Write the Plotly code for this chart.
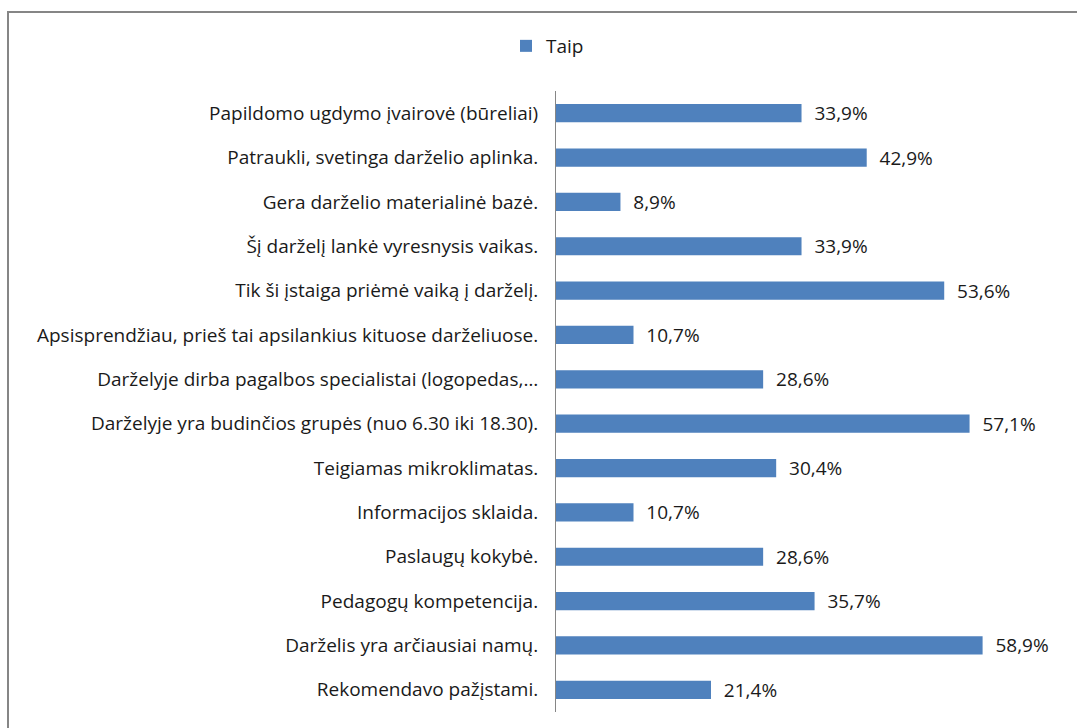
import plotly.graph_objects as go

categories = [
    "Papildomo ugdymo įvairovė (būreliai)",
    "Patraukli, svetinga darželio aplinka.",
    "Gera darželio materialinė bazė.",
    "Šį darželį lankė vyresnysis vaikas.",
    "Tik ši įstaiga priėmė vaiką į darželį.",
    "Apsisprendžiau, prieš tai apsilankius kituose darželiuose.",
    "Darželyje dirba pagalbos specialistai (logopedas,…",
    "Darželyje yra budinčios grupės (nuo 6.30 iki 18.30).",
    "Teigiamas mikroklimatas.",
    "Informacijos sklaida.",
    "Paslaugų kokybė.",
    "Pedagogų kompetencija.",
    "Darželis yra arčiausiai namų.",
    "Rekomendavo pažįstami.",
]
taip = [33.9, 42.9, 8.9, 33.9, 53.6, 10.7, 28.6, 57.1, 30.4, 10.7, 28.6, 35.7, 58.9, 21.4]

# value labels with decimal comma, pushed a bit away from the bar end
labels = ["\u00a0\u00a0" + f"{v:.1f}%".replace(".", ",") for v in taip]

FONT = "Open Sans"
TEXT_COLOR = "#1a1a1a"
FS = 19

fig = go.Figure()
fig.add_trace(
    go.Bar(
        x=taip,
        y=categories,
        orientation="h",
        name="Taip",
        marker=dict(color="#4F81BD", line=dict(width=0)),
        width=0.41,
        text=labels,
        textposition="outside",
        constraintext="none",
        textfont=dict(family=FONT, size=FS, color=TEXT_COLOR),
        cliponaxis=False,
    )
)

# chart border (only left and top edges are visible in the original)
W, H = 1077, 728
L, R, T, B = 556, 14, 91, 16
pw, ph = W - L - R, H - T - B
fig.add_shape(
    type="rect",
    xref="paper", yref="paper",
    x0=(8 - L) / pw, x1=(W + 20 - L) / pw,
    y0=-0.2, y1=(H - B - 12) / ph,
    line=dict(color="#868686", width=2),
    fillcolor="rgba(0,0,0,0)",
    layer="below",
)

fig.update_layout(
    width=W, height=H,
    margin=dict(l=L, r=R, t=T, b=B),
    paper_bgcolor="white",
    plot_bgcolor="white",
    font=dict(family=FONT, size=FS, color=TEXT_COLOR),
    showlegend=True,
    legend=dict(
        orientation="h",
        xref="container", yref="container",
        x=506 / W, y=1 - 46 / H,
        xanchor="left", yanchor="middle",
        font=dict(family=FONT, size=FS, color=TEXT_COLOR),
        itemwidth=30,
    ),
)
fig.update_xaxes(
    range=[0, 70],
    showgrid=False,
    showticklabels=False,
    zeroline=False,
    showline=False,
)
fig.update_yaxes(
    autorange="reversed",
    showgrid=False,
    showline=True,
    linecolor="#868686",
    linewidth=1,
    ticks="",
    ticklabelstandoff=13,
    tickfont=dict(family=FONT, size=FS, color=TEXT_COLOR),
)

fig.write_html(
    "out.html",
    config={"displayModeBar": False},
    post_script="document.body.style.margin='0';",
)
